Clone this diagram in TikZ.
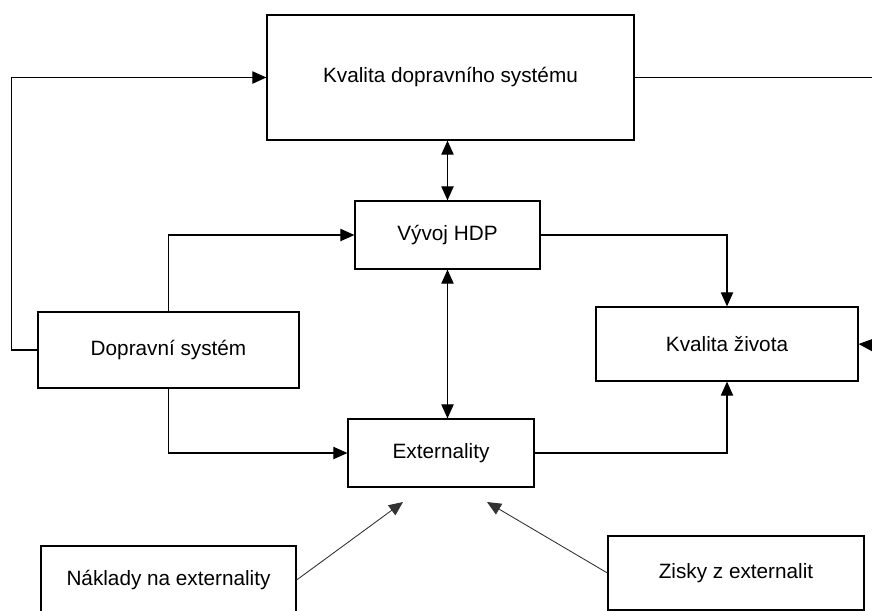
\documentclass[tikz,border=0pt]{standalone}
\usepackage{fontspec}
\setmainfont{Liberation Sans}
\usetikzlibrary{arrows.meta}

\begin{document}
\begin{tikzpicture}[x=0.02cm, y=-0.02cm,
  box/.style={draw, line width=0.7pt, inner sep=0pt, font=\fontsize{11.8}{14}\selectfont},
  arr/.style={line width=0.7pt, -{Triangle[length=8pt, width=7pt]}},
  dbl/.style={line width=0.7pt, {Triangle[length=8pt, width=7pt]}-{Triangle[length=8pt, width=7pt]}},
  thin arr/.style={line width=0.5pt, draw=black!80, -{Triangle[length=8pt, width=7pt]}}]

\clip (0,0) rectangle (872,610);
\useasboundingbox (0,0) rectangle (872,610);

\node [box, minimum width=7.34cm, minimum height=2.5cm] (v1) at (450.5,77.5) {Kvalita dopravního systému};
\node [box, minimum width=3.7cm, minimum height=1.36cm] (v2) at (447.5,235) {Vývoj HDP};
\node [box, minimum width=5.22cm, minimum height=1.52cm] (v3) at (168.5,350) {Dopravní systém};
\node [box, minimum width=3.72cm, minimum height=1.36cm] (v4) at (441,453) {Externality};
\node [box, minimum width=5.24cm, minimum height=1.48cm] (v5) at (727,344) {Kvalita života};
\node [box, minimum width=5.1cm, minimum height=1.36cm] (v6) at (168.5,580) {Náklady na externality};
\node [box, minimum width=5.12cm, minimum height=1.48cm] (v7) at (736,573) {Zisky z externalit};

\coordinate (e1) at (872,77.5);
\coordinate (e2) at (872,345);
\coordinate (t1) at (403,502);
\coordinate (t2) at (487,502);

\draw [arr] (v3.west) -- ++(-26,0) |- (v1.west);
\draw [line width=0.7pt] (v1.east) -- (e1);
\draw [arr] (e2) -- (v5.east);
\draw [dbl] (v2.north) -- (v2.north |- v1.south);
\draw [arr] (v3.north) |- (v2.west);
\draw [arr] (v3.south) |- (v4.west);
\draw [dbl] (v2.south) -- (v2.south |- v4.north);
\draw [arr] (v2.east) -| (v5.north);
\draw [arr] (v4.east) -| (v5.south);
\draw [thin arr] (v6.east) -- (t1);
\draw [thin arr] (v7.west) -- (t2);
\end{tikzpicture}
\end{document}
